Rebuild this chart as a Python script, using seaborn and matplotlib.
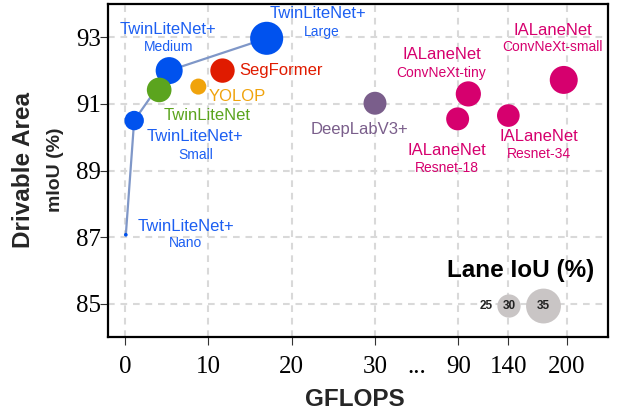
#!/usr/bin/env python3
import numpy as np
import pandas as pd
import matplotlib
matplotlib.use("Agg")
import matplotlib.pyplot as plt
import seaborn as sns

# values
models = ["TwinLiteNet+ Nano", "TwinLiteNet+ Small", "TwinLiteNet+ Medium", "TwinLiteNet+ Large",
          "TwinLiteNet", "YOLOP", "SegFormer", "DeepLabV3+",
          "IALaneNet Resnet-18", "IALaneNet ConvNeXt-tiny", "IALaneNet Resnet-34", "IALaneNet ConvNeXt-small"]
family = ["TwinLiteNet+"] * 4 + ["TwinLiteNet", "YOLOP", "SegFormer", "DeepLabV3+"] + ["IALaneNet"] * 4
main_label = ["TwinLiteNet+"] * 4 + ["TwinLiteNet", "YOLOP", "SegFormer", "DeepLabV3+"] + ["IALaneNet"] * 4
sub_label = ["Nano", "Small", "Medium", "Large", "", "", "", "",
             "Resnet-18", "ConvNeXt-tiny", "Resnet-34", "ConvNeXt-small"]
gflops = [0.1, 1.1, 5.3, 17.0, 4.1, 8.8, 11.7, 30.0, 89.5, 100.0, 140.0, 197.0]
da_miou = [87.07, 90.5, 92.0, 92.97, 91.42, 91.52, 92.0, 91.02, 90.55, 91.3, 90.65, 91.72]
lane_iou = [26.1, 28.8, 31.4, 34.1, 30.5, 27.9, 30.4, 29.9, 29.9, 30.7, 29.8, 31.8]

legend_iou = [25, 30, 35]
x_ticks = [0, 10, 20, 30, 90, 140, 200]
y_ticks = [85, 87, 89, 91, 93]

palette = {"TwinLiteNet+": "#0052ee", "TwinLiteNet": "#5ba41e", "YOLOP": "#f0a30c",
           "SegFormer": "#e01b00", "DeepLabV3+": "#7a5e8b", "IALaneNet": "#d6006e"}
text_color = {"TwinLiteNet+": "#1c5ff2", "TwinLiteNet": "#5ba41e", "YOLOP": "#f0a30c",
              "SegFormer": "#e01b00", "DeepLabV3+": "#7a5e8b", "IALaneNet": "#d6006e"}

# label offsets in pixels (main line, sub line) and alignment
main_off = [(60, 8), (61, -16), (-1, 41), (51, 25), (48, -26), (10, -10), (17, 0), (-15, -26),
            (-11, -32), (-26, 39), (31, -21), (-11, 49)]
sub_off = [(60, -8), (62, -34), (-1, 24), (55, 6), None, None, None, None,
           (-11, -49), (-27, 21), (31, -38), (-11, 33)]
main_ha = ["center"] * 5 + ["left", "left", "center"] + ["center"] * 4

df = pd.DataFrame({"model": models, "family": family, "gflops": gflops,
                   "da_miou": da_miou, "lane_iou": lane_iou})

# broken x axis: 0-30 linear, then compressed segments
x_src = [-100, 0, 30, 90, 140, 200, 400]
x_pos = [-10, 0, 3, 4, 4.6, 5.3, 7.633]


def fwd(v):
    return np.interp(v, x_src, x_pos)


def inv(p):
    return np.interp(p, x_pos, x_src)


size_norm = (26, 35)
size_range = (0, 630)


def iou_area(v):
    return size_range[0] + (v - size_norm[0]) / (size_norm[1] - size_norm[0]) * (size_range[1] - size_range[0])


sns.set_style("white")
plt.rcParams["font.family"] = ["Liberation Sans", "DejaVu Sans"]

fig = plt.figure(figsize=(6.19, 4.17), dpi=100, facecolor="white")
ax = fig.add_axes([108 / 619, 1 - 337 / 417, 500 / 619, 333 / 417])
ax.set_xscale("function", functions=(fwd, inv))

tl = df[df["family"] == "TwinLiteNet+"]
ax.plot(tl["gflops"], tl["da_miou"], color="#7f97c8", linewidth=1.6, zorder=2)

sns.scatterplot(data=df, x="gflops", y="da_miou", hue="family", palette=palette,
                size="lane_iou", sizes=size_range, size_norm=size_norm,
                legend=False, linewidth=0, alpha=1, ax=ax, zorder=3)

for i in range(len(df)):
    fam = family[i]
    ax.annotate(main_label[i], xy=(gflops[i], da_miou[i]), xytext=main_off[i],
                textcoords="offset pixels", ha=main_ha[i], va="center",
                fontsize=12, color=text_color[fam])
    if sub_off[i] is not None:
        ax.annotate(sub_label[i], xy=(gflops[i], da_miou[i]), xytext=sub_off[i],
                    textcoords="offset pixels", ha="center", va="center",
                    fontsize=10, color=text_color[fam])

# size legend
leg_x = [0.757, 0.802, 0.871]
ax.scatter(leg_x, [0.093] * 3, s=[iou_area(v) for v in legend_iou], color="#c9c5c5",
           linewidth=0, transform=ax.transAxes, zorder=3)
for xx, v in zip(leg_x, legend_iou):
    ax.text(xx, 0.093, str(v), transform=ax.transAxes, ha="center", va="center",
            fontsize=8.5, fontweight="bold", color="#222222", zorder=4)
ax.text(0.825, 0.199, "Lane IoU (%)", transform=ax.transAxes, ha="center", va="center",
        fontsize=17.5, fontweight="bold", color="black")

ax.set_xlim(inv(-0.204), inv(5.796))
ax.set_ylim(84, 94)
ax.set_xticks(x_ticks)
ax.set_xticklabels([str(t) for t in x_ticks])
ax.set_xticks([60], ["..."], minor=True)
ax.set_yticks(y_ticks)
ax.set_yticklabels([str(t) for t in y_ticks])
ax.set_xlabel("")
ax.set_ylabel("")

for lab in ax.get_xticklabels(which="both") + ax.get_yticklabels():
    lab.set_fontfamily("Liberation Serif")
    lab.set_fontsize(18)
    lab.set_color("black")

ax.tick_params(axis="both", which="major", direction="out", length=5.5, width=0.8,
               color="#333333", bottom=True, left=True)
ax.tick_params(axis="x", which="major", pad=8.5)
ax.tick_params(axis="y", which="major", pad=-0.5)
ax.tick_params(axis="x", which="minor", length=0, pad=14)

ax.grid(True, which="major", color="#d9d9d9", linewidth=1.5, linestyle=(0, (3.2, 2.8)))
ax.set_axisbelow(True)
for sp in ax.spines.values():
    sp.set_visible(True)
    sp.set_color("black")
    sp.set_linewidth(1.6)

fig.text(24 / 619, 1 - 170 / 417, "Drivable Area", rotation=90, ha="center", va="center",
         fontsize=17.5, fontweight="bold")
fig.text(55 / 619, 1 - 170 / 417, "mIoU (%)", rotation=90, ha="center", va="center",
         fontsize=14, fontweight="bold")
fig.text(355 / 619, 1 - 400 / 417, "GFLOPS", ha="center", va="center",
         fontsize=17.5, fontweight="bold")

fig.savefig("out.png", dpi=100, facecolor="white")
